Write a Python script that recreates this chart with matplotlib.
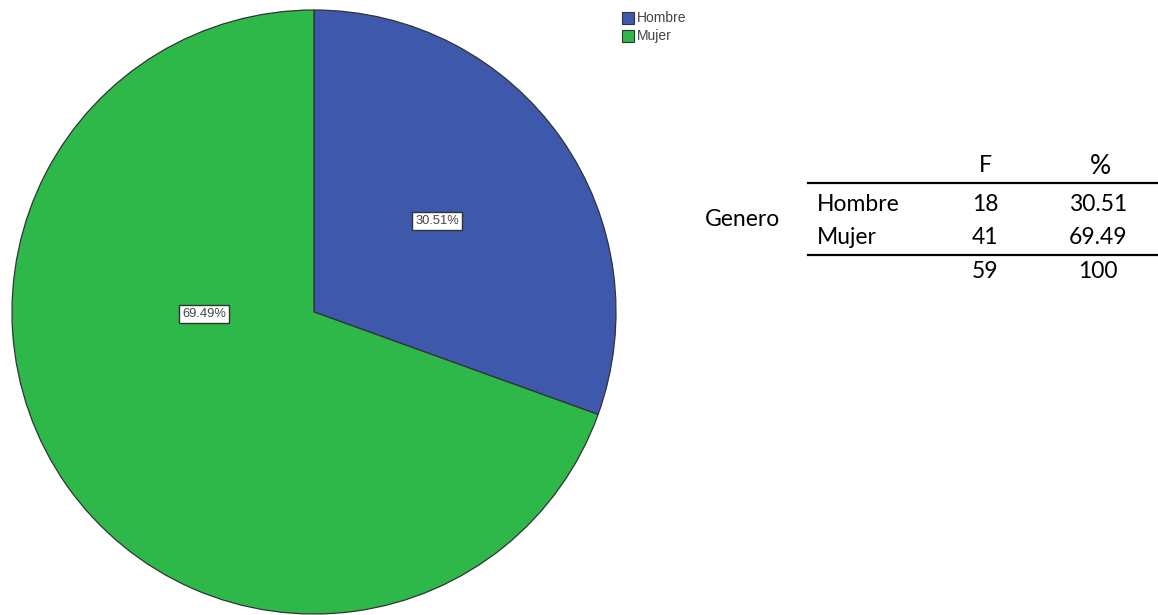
import matplotlib.pyplot as plt
from matplotlib.patches import Rectangle

# datos
categorias = ['Hombre', 'Mujer']
frecuencias = [18, 41]
porcentajes = [30.51, 69.49]
total_f = 59
total_p = 100
colores = ['#3E58AC', '#2EB84A']

W, H = 1158, 615
fig = plt.figure(figsize=(W / 100, H / 100), dpi=100)


def px(x, y):
    # coordenadas en pixeles (origen arriba a la izquierda) -> fraccion de figura
    return x / W, 1 - y / H


# pastel
ax = fig.add_axes([12 / W, 1 / H, 604 / W, 604 / H])
wedges, _ = ax.pie(porcentajes, colors=colores, startangle=90, counterclock=False,
                   wedgeprops=dict(edgecolor='#333333', linewidth=0.9))
ax.set_xlim(-1, 1)
ax.set_ylim(-1, 1)
ax.set_aspect('equal')
ax.axis('off')

# etiquetas del pastel
pos_etq = [(437, 221), (204, 314)]
for p, (x, y) in zip(porcentajes, pos_etq):
    fig.text(*px(x, y), '%.2f%%' % p, ha='center', va='center', fontsize=9.3,
             family='Liberation Sans', color='#444444',
             bbox=dict(boxstyle='square,pad=0.22', fc='white', ec='#333333', lw=1.0))

# leyenda
for i, (c, col) in enumerate(zip(categorias, colores)):
    y = 18 + i * 18
    x0, y0 = px(622, y + 6)
    fig.patches.append(Rectangle((x0, y0), 12 / W, 12 / H, transform=fig.transFigure,
                                 fc=col, ec='#333333', lw=0.8))
    fig.text(*px(637, y), c, ha='left', va='center', fontsize=10,
             family='Liberation Sans', color='#444444')

# tabla
fuente = dict(fontsize=16.5, family='Lato', color='black')
fig.text(*px(985, 166), 'F', ha='center', va='center', **fuente)
fig.text(*px(1100, 166), '%', ha='center', va='center', fontsize=19, family='Lato')
fig.text(*px(705, 220), 'Genero', ha='left', va='center', **fuente)
filas_y = [204, 237]
for c, f, p, y in zip(categorias, frecuencias, porcentajes, filas_y):
    fig.text(*px(817, y), c, ha='left', va='center', **fuente)
    fig.text(*px(985, y), str(f), ha='center', va='center', **fuente)
    fig.text(*px(1098, y), '%.2f' % p, ha='center', va='center', **fuente)
fig.text(*px(985, 271), str(total_f), ha='center', va='center', **fuente)
fig.text(*px(1098, 271), str(total_p), ha='center', va='center', **fuente)

for y in [183, 255]:
    fig.add_artist(plt.Line2D([808 / W, 1], [1 - y / H] * 2, color='black', lw=1.6,
                              transform=fig.transFigure))

fig.savefig('out.png', dpi=100, facecolor='white')
